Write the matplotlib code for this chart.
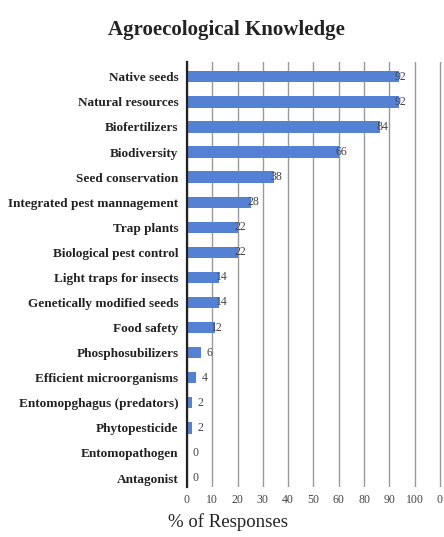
import numpy as np
import matplotlib
matplotlib.use("Agg")
import matplotlib.pyplot as plt

plt.rcParams['font.family'] = ['Liberation Serif', 'DejaVu Serif']

# 数据
categories = [
    'Native seeds', 'Natural resources', 'Biofertilizers', 'Biodiversity',
    'Seed conservation', 'Integrated pest mannagement', 'Trap plants',
    'Biological pest control', 'Light traps for insects',
    'Genetically modified seeds', 'Food safety', 'Phosphosubilizers',
    'Efficient microorganisms', 'Entomopghagus (predators)', 'Phytopesticide',
    'Entomopathogen', 'Antagonist',
]
values = [92, 92, 84, 66, 38, 28, 22, 22, 14, 14, 12, 6, 4, 2, 2, 0, 0]
tick_labels = ['0', '10', '20', '30', '40', '50', '60', '80', '90', '100', '0']

fig = plt.figure(figsize=(4.44, 5.37), dpi=100)
ax = fig.add_axes([0.421, 0.093, 0.575, 0.792])

y = np.arange(len(categories))
ax.barh(y, values, height=0.45, color='#5581d4', zorder=3)

for yi, v in zip(y, values):
    x = v - 1.5 if v > 10 else v + 2.5
    ax.text(x, yi, str(v), ha='left', va='center', fontsize=8.5,
            color='#444444', zorder=4)

ax.set_xlim(0, 111)
ax.set_ylim(16.36, -0.6)
ax.set_xticks(np.linspace(0, 110, 11))
ax.set_xticklabels(tick_labels, fontsize=8.5, color='#444444')
ax.set_yticks(y)
ax.set_yticklabels(categories, fontsize=9.5, fontweight='bold', color='#222222')
ax.tick_params(axis='both', length=0, pad=5)
ax.tick_params(axis='y', pad=6)
ax.grid(axis='x', color='#999999', linewidth=1.0, zorder=0)
for s in ['top', 'right', 'bottom']:
    ax.spines[s].set_visible(False)
ax.spines['left'].set_color('#222222')
ax.spines['left'].set_linewidth(1.6)
ax.spines['left'].set_zorder(5)

fig.text(0.51, 0.945, 'Agroecological Knowledge', ha='center', va='center',
         fontsize=15, fontweight='bold', color='#222222')
fig.text(0.513, 0.028, '% of Responses', ha='center', va='center',
         fontsize=13.5, color='#222222')

fig.savefig('out.png', dpi=100)
